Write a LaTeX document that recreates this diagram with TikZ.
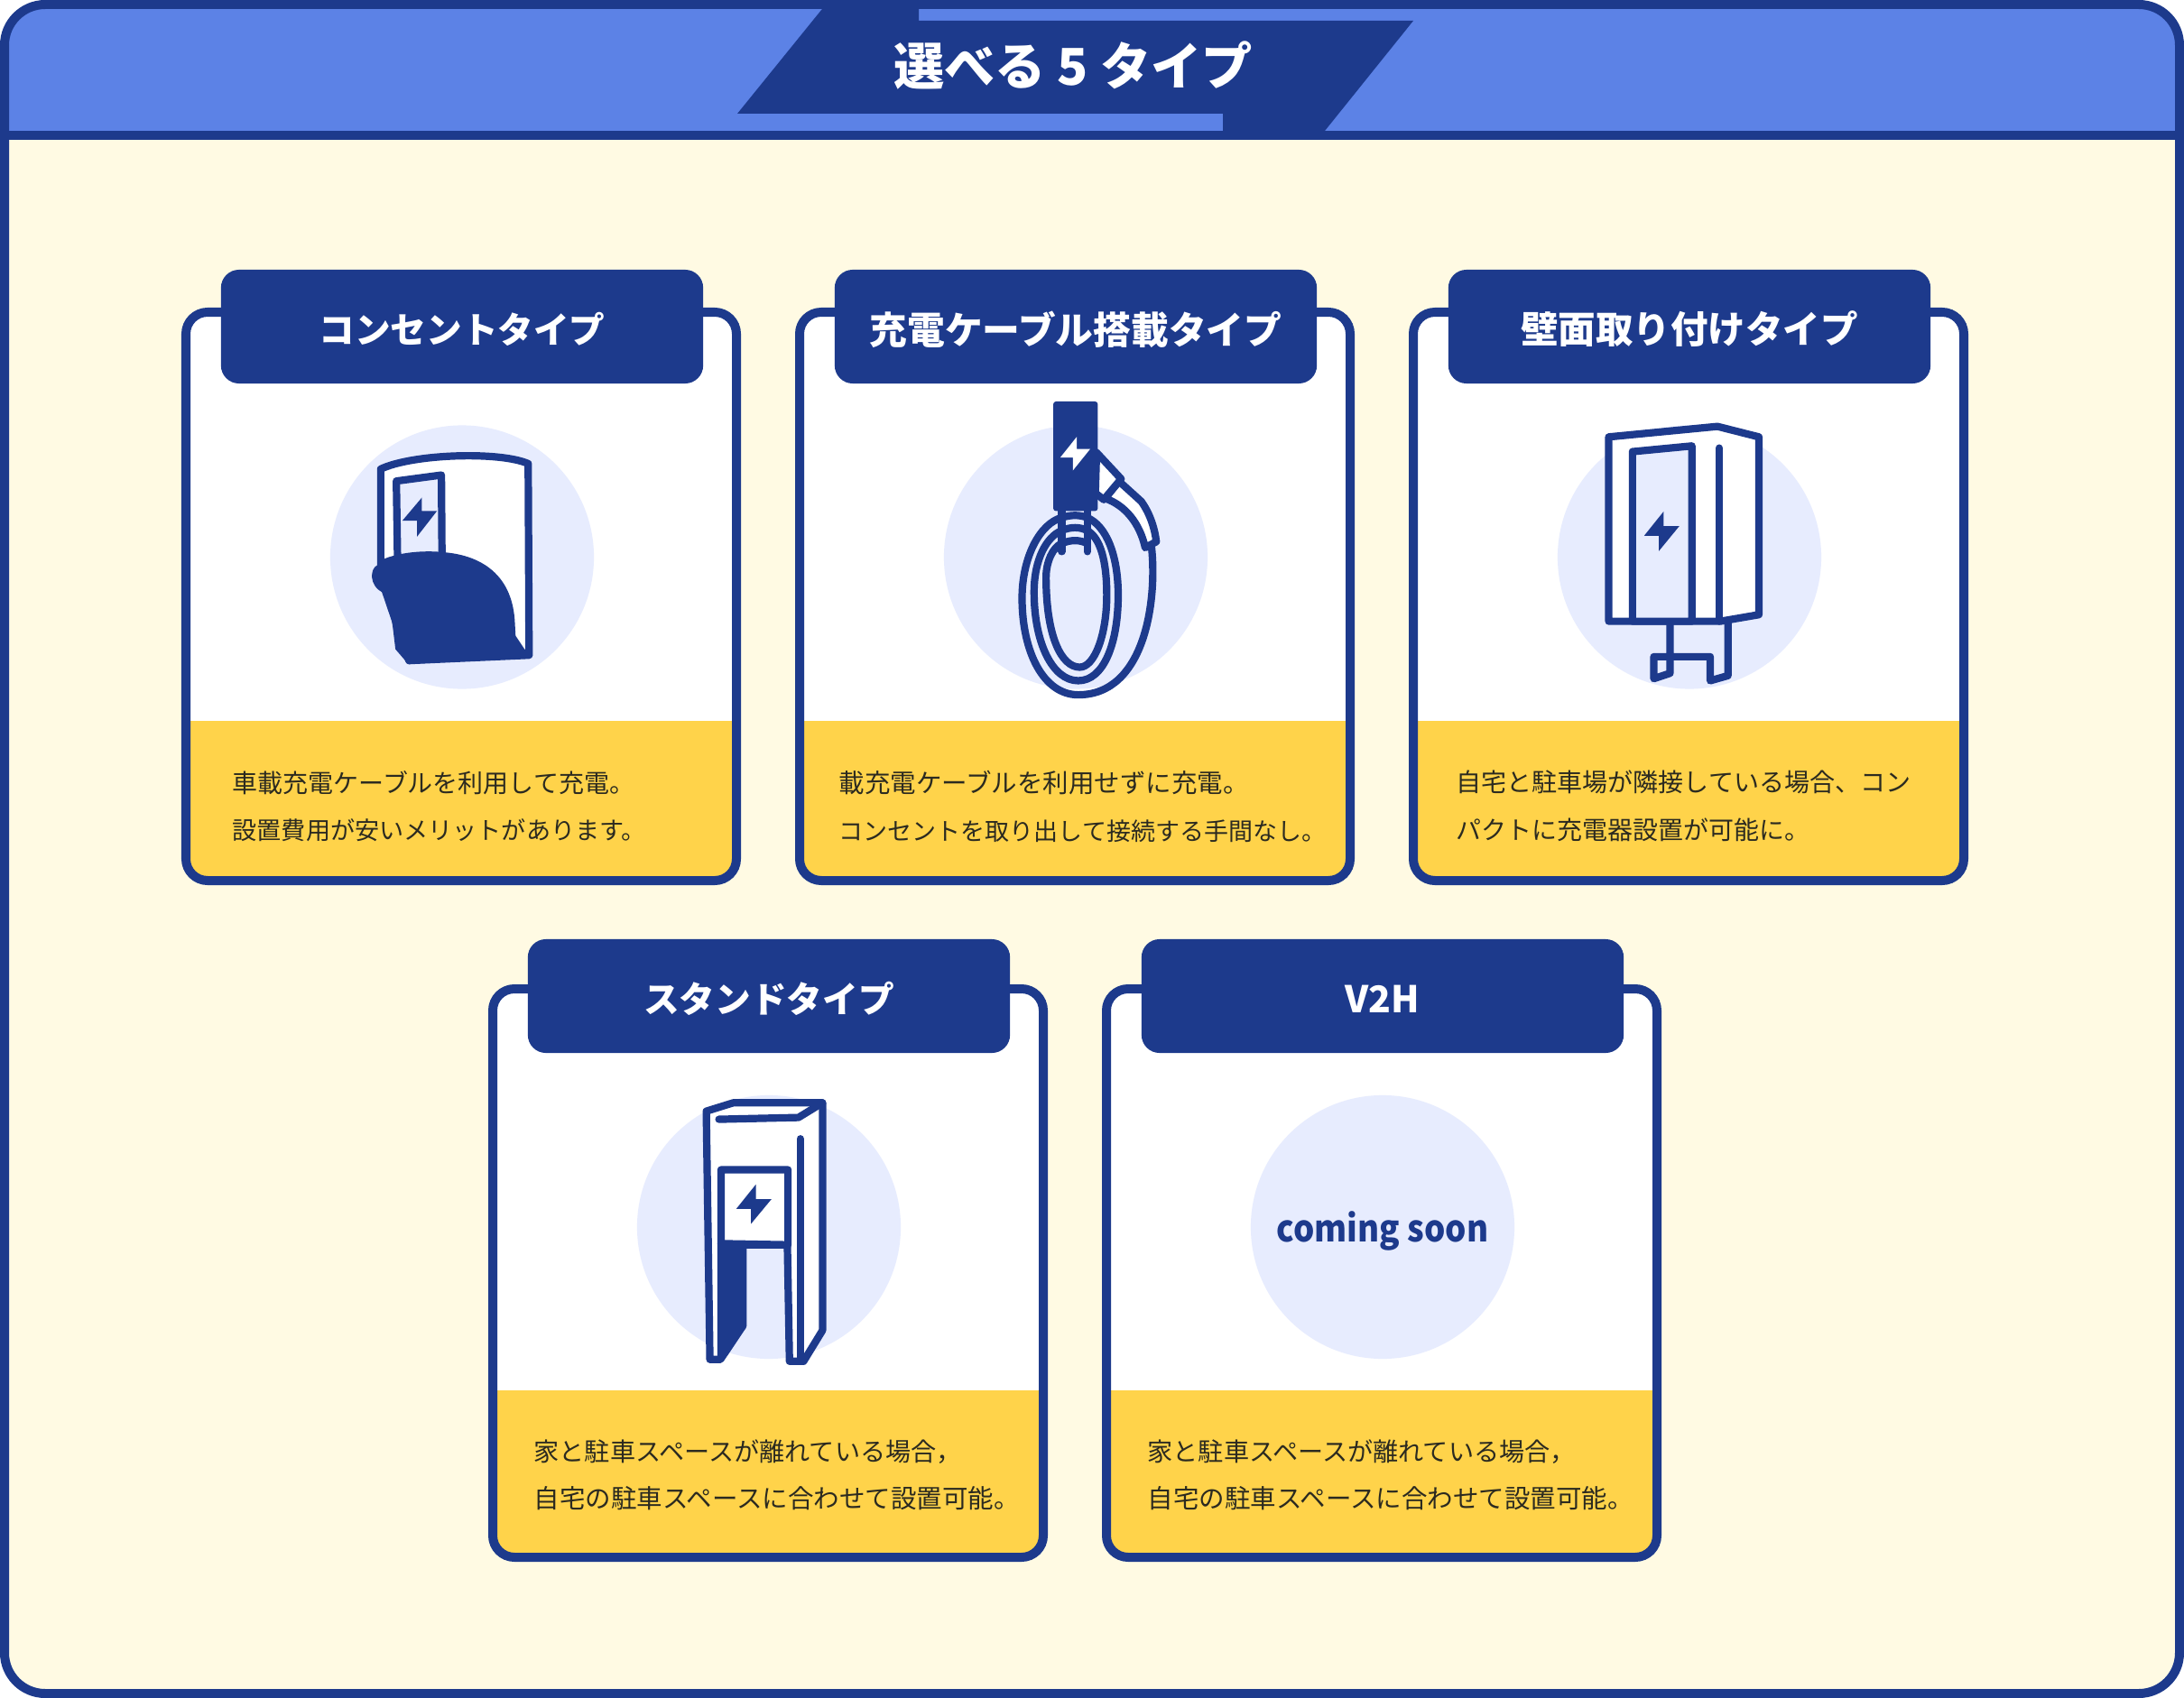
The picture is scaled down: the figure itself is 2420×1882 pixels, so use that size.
\documentclass[tikz,border=0pt]{standalone}
\usepackage{fontspec}
\setmainfont{Noto Sans CJK JP}
\usetikzlibrary{positioning}
\definecolor{navy}{HTML}{1D3A8C}
\definecolor{headblue}{HTML}{5C82E6}
\definecolor{cream}{HTML}{FFFAE3}
\definecolor{sun}{HTML}{FFD34A}
\definecolor{pale}{HTML}{E7ECFE}
\definecolor{ink}{HTML}{2B2A20}
\tikzset{
      cardline/.style={draw=navy, line width=0.1cm},
      tabbox/.style={fill=navy, text=white, rounded corners=0.2cm, minimum width=5.34cm, minimum height=1.26cm, font=\fontsize{11.6pt}{14pt}\selectfont\bfseries, inner sep=0pt},
      bodytext/.style={text=ink, anchor=north west, align=left, inner sep=0pt, font=\fontsize{7.82pt}{14.94pt}\selectfont},
      badge/.style={circle, fill=pale, minimum size=2.92cm, inner sep=0pt},
      iconline/.style={draw=navy, line width=0.082cm, line join=round, line cap=round},
      bolt/.style={fill=navy},
      zoomed/.style={x=0.003333cm, y=-0.003333cm},
}
% text at its own size
\newcommand{\sizedline}[2]{{\fontsize{#1pt}{14.94pt}\selectfont #2}}
% text set lower in its node
\newcommand{\lowered}[2]{\raisebox{0pt}[\dimexpr\height+#1\relax][\depth]{#2}}
% one card: x, y of the frame corner, start of the yellow part, tab centre, tab name, tab text
\newcommand{\typecard}[6]{
      \fill[white, rounded corners=0.24cm] (#1,#2) rectangle +(610,630);
      \fill[sun] (#1,#3) [rounded corners=0.24cm] -- (#1,#2+630) -- (#1+610,#2+630) [sharp corners] -- (#1+610,#3) -- cycle;
      \draw[cardline, rounded corners=0.24cm] (#1,#2) rectangle +(610,630);
      \node[tabbox] (#5) at (#1+306,#4) {\lowered{0.06cm}{#6}};
}
\begin{document}
\begin{tikzpicture}[x=0.01cm, y=-0.01cm]
      \useasboundingbox (0,0) rectangle (2420,1882);

      % frame and header
      \fill[cream, rounded corners=0.45cm] (5,5) rectangle (2415,1877);
      \fill[headblue, rounded corners=0.45cm] (5,150) -- (5,5) -- (2415,5) [sharp corners] -- (2415,150) -- cycle;
      \fill[navy] (915,5) -- (1018,5) -- (1018,23) -- (1566,23) -- (1464,150) -- (1355,150) -- (1355,126) -- (817,126) -- cycle;
      \draw[navy, line width=0.1cm] (5,150) -- (2415,150);
      \draw[navy, line width=0.1cm, rounded corners=0.45cm] (5,5) rectangle (2415,1877);
      \node[text=white, font=\fontsize{16pt}{18pt}\selectfont\bfseries, inner sep=0pt] (title) at (1189,73) {選べる 5 タイプ};

      % top row
      \typecard{206}{346}{799}{362}{concent}{\sizedline{11.27}{コンセントタイプ}}
      \typecard{886}{346}{799}{362}{cable}{\sizedline{11.88}{充電ケーブル搭載タイプ}}
      \typecard{1566}{346}{799}{362}{wall}{\sizedline{11.8}{壁面取り付けタイプ}}
      % bottom row
      \typecard{546}{1096}{1541}{1104}{stand}{\sizedline{11.28}{スタンドタイプ}}
      \typecard{1226}{1096}{1541}{1104}{vtoh}{V2H}

      \node[bodytext] (concenttext) at (257,853.5) {\sizedline{7.96}{車載充電ケーブルを利用して充電。}\\\sizedline{7.71}{設置費用が安いメリットがあります。}};
      \node[bodytext] (cabletext) at (929,853.5) {\sizedline{8.1}{載充電ケーブルを利用せずに充電。}\\\sizedline{7.68}{コンセントを取り出して接続する手間なし。}};
      \node[bodytext] (walltext) at (1613,853.5) {\sizedline{7.97}{自宅と駐車場が隣接している場合、コン}\\\sizedline{7.95}{パクトに充電器設置が可能に。}};
      \node[bodytext] (standtext) at (591,1594.5) {\sizedline{8.0}{家と駐車スペースが離れている場合，}\\\sizedline{8.1}{自宅の駐車スペースに合わせて設置可能。}};
      \node[bodytext] (vtohtext) at (1271,1594.5) {\sizedline{8.0}{家と駐車スペースが離れている場合，}\\\sizedline{8.1}{自宅の駐車スペースに合わせて設置可能。}};

      \node[badge] (concentbadge) at (512,617.5) {};
      \node[badge] (cablebadge) at (1192,617.5) {};
      \node[badge] (wallbadge) at (1872,617.5) {};
      \node[badge] (standbadge) at (852,1360) {};
      \node[badge, text=navy, font=\fontsize{11.6pt}{14pt}\selectfont\bfseries\addfontfeatures{FakeStretch=0.9}] (vtohbadge) at (1532,1360) {\lowered{0.08cm}{coming soon}};

      % outlet icon
      \begin{scope}[shift={(340,440)}, zoomed]
            \filldraw[iconline, fill=white] (246,240) .. controls (350,190) and (640,180) .. (737,222) -- (740,860) -- (340,878) -- (246,600) -- cycle;
            \filldraw[iconline, fill=pale] (298,280) -- (448,260) -- (450,540) -- (302,540) -- cycle;
            \fill[bolt] (383,335) -- (318,412) -- (367,412) -- (367,465) -- (433,380) -- (383,380) -- cycle;
            \fill[navy] (260,538) .. controls (320,515) and (400,510) .. (465,518) .. controls (580,530) and (680,590) .. (692,740) -- (695,795) -- (725,840) -- (752,862) -- (338,890) -- (295,840) .. controls (285,760) and (280,690) .. (255,652) .. controls (205,630) and (210,570) .. (235,560) -- cycle;
      \end{scope}

      % cable icon
      \begin{scope}[shift={(1030,430)}, zoomed]
            \draw[iconline] (738,520) .. controls (760,700) and (720,1022) .. (495,1022) .. controls (380,1022) and (308,880) .. (308,700) .. controls (308,560) and (370,450) .. (440,432) .. controls (470,422) and (500,422) .. (525,432) .. controls (590,460) and (628,560) .. (628,690) .. controls (628,850) and (580,975) .. (495,975) .. controls (410,975) and (348,850) .. (348,680) .. controls (348,570) and (390,495) .. (440,475) .. controls (470,462) and (500,462) .. (525,475) .. controls (570,500) and (590,580) .. (590,690) .. controls (590,820) and (550,930) .. (500,930) .. controls (440,930) and (388,830) .. (388,630) .. controls (388,580) and (410,530) .. (440,518) .. controls (470,505) and (500,505) .. (525,518);
            \draw[iconline] (440,410) -- (440,545);
            \draw[iconline] (525,410) -- (525,545);
            \filldraw[iconline, fill=white] (630,310) -- (705,378) .. controls (735,420) and (750,470) .. (755,512) -- (718,532) .. controls (700,450) and (650,390) .. (585,368) -- cycle;
            \filldraw[iconline, fill=white] (556,215) -- (638,303) -- (580,372) -- (552,350) -- cycle;
            \fill[navy, rounded corners=0.03cm] (412,45) rectangle (560,410);
            \fill[white] (490,163) -- (435,232) -- (477,232) -- (477,275) -- (535,203) -- (490,203) -- cycle;
      \end{scope}

      % wall icon
      \begin{scope}[shift={(1710,450)}, zoomed]
            \draw[iconline] (422,720) -- (422,890) -- (368,908) -- (368,835) -- (556,835) -- (556,915) -- (615,898) -- (615,720);
            \filldraw[iconline, fill=white] (218,103) -- (580,68) -- (718,103) -- (718,695) -- (590,717) -- (218,717) -- cycle;
            \filldraw[iconline, fill=pale] (297,152) -- (495,133) -- (495,717) -- (297,717) -- cycle;
            \draw[iconline] (586,140) -- (586,717);
            \fill[bolt] (401,351) -- (336,432) -- (385,432) -- (385,483) -- (453,400) -- (401,400) -- cycle;
      \end{scope}

      % stand icon
      \begin{scope}[shift={(740,1190)}, zoomed]
            \filldraw[iconline, fill=white] (128,125) -- (218,97) -- (515,97) -- (515,855) -- (452,958) -- (405,958) -- (398,570) -- (250,570) -- (250,840) -- (175,952) -- (140,952) -- cycle;
            \fill[navy] (165,566) -- (250,570) -- (250,840) -- (175,952) -- (165,952) -- cycle;
            \draw[iconline] (170,152) -- (435,146) -- (515,97);
            \draw[iconline] (441,217) -- (441,958);
            \filldraw[iconline, fill=white] (177,320) -- (400,320) -- (400,570) -- (177,566) -- cycle;
            \fill[bolt] (293,369) -- (228,450) -- (277,450) -- (277,500) -- (345,418) -- (293,418) -- cycle;
      \end{scope}

\end{tikzpicture}
\end{document}
